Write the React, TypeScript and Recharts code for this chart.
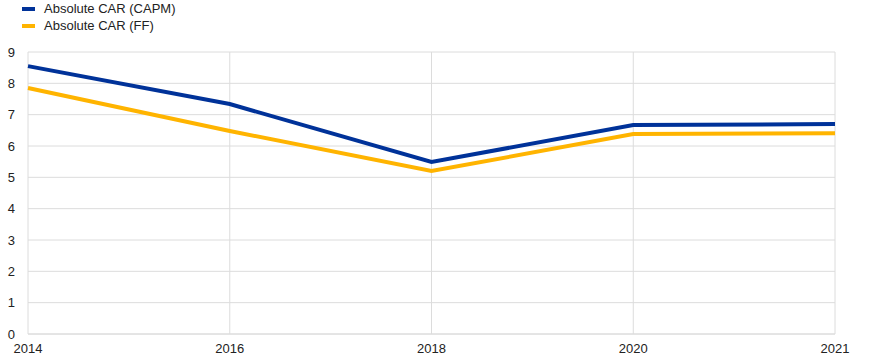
import React from "react";
import { LineChart, Line, XAxis, YAxis, CartesianGrid } from "recharts";

const years = ["2014", "2016", "2018", "2020", "2021"];
const capm = [8.55, 7.34, 5.49, 6.67, 6.7];
const ff = [7.85, 6.48, 5.2, 6.38, 6.41];
const yTicks = [0, 1, 2, 3, 4, 5, 6, 7, 8, 9];

const seriesInfo = [
  { key: "capm", name: "Absolute CAR (CAPM)", color: "#003299" },
  { key: "ff", name: "Absolute CAR (FF)", color: "#FFB400" },
];

const data = years.map((y, i) => ({ year: y, capm: capm[i], ff: ff[i] }));

const FONT = "Arial, 'Liberation Sans', sans-serif";

const LegendBox = () => (
  <div style={{ position: "absolute", top: 0, left: 0, fontFamily: FONT, fontSize: 13, color: "#222", zIndex: 2 }}>
    {seriesInfo.map((s) => (
      <div key={s.key} style={{ display: "flex", alignItems: "center", height: 17 }}>
        <span style={{ display: "inline-block", width: 13, height: 4, background: s.color, marginLeft: 22, marginRight: 9 }} />
        <span style={{ lineHeight: "17px" }}>{s.name}</span>
      </div>
    ))}
  </div>
);

export default function App() {
  return (
    <div style={{ position: "absolute", top: 0, left: 0, width: 874, height: 364, background: "#fff" }}>
      <LegendBox />
      <LineChart width={874} height={364} data={data} margin={{ top: 52, right: 39, bottom: 0, left: 0 }}>
        <CartesianGrid stroke="#dcdcdc" strokeWidth={1} vertical={true} horizontal={true} />
        <XAxis
          dataKey="year"
          axisLine={{ stroke: "#dcdcdc" }}
          tickLine={false}
          tickSize={0}
          tickMargin={10}
          height={30}
          interval={0}
          tick={{ fill: "#222", fontSize: 13, fontFamily: FONT }}
        />
        <YAxis
          domain={[0, 9]}
          ticks={yTicks}
          width={28}
          axisLine={false}
          tickLine={false}
          tickSize={0}
          tickMargin={13}
          interval={0}
          tick={{ fill: "#222", fontSize: 13, fontFamily: FONT }}
        />
        {seriesInfo.map((s) => (
          <Line
            key={s.key}
            type="linear"
            dataKey={s.key}
            name={s.name}
            stroke={s.color}
            strokeWidth={4}
            dot={false}
            activeDot={false}
            isAnimationActive={false}
          />
        ))}
      </LineChart>
    </div>
  );
}
